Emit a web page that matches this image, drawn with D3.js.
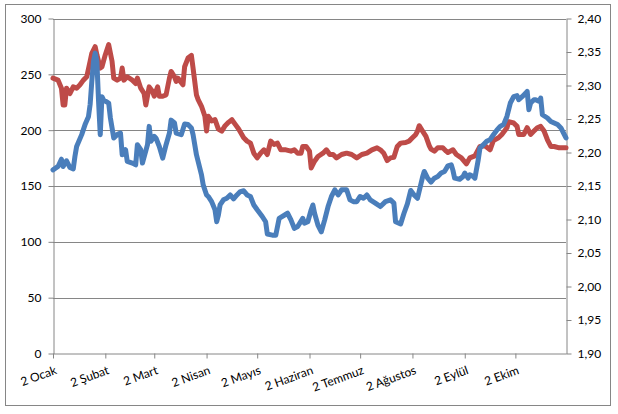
<!DOCTYPE html>
<html><head><meta charset="utf-8">
<script src="https://cdn.jsdelivr.net/npm/d3@7/dist/d3.min.js"></script>
<style>body{margin:0;background:#fff;}svg{display:block;}text{font-family:Lato,"Open Sans",sans-serif;fill:#000;}</style>
</head><body><svg id="c" width="618" height="414"></svg>
<script>
const monthTicks = ["2012-01-02","2012-02-02","2012-03-02","2012-04-02","2012-05-02","2012-06-02","2012-07-02","2012-08-02","2012-09-02","2012-10-02"];
const monthLabels = ["2 Ocak","2 Şubat","2 Mart","2 Nisan","2 Mayıs","2 Haziran","2 Temmuz","2 Ağustos","2 Eylül","2 Ekim"];
const leftTicks = [0,50,100,150,200,250,300];
const rightTicks = [1.90,1.95,2.00,2.05,2.10,2.15,2.20,2.25,2.30,2.35,2.40];

const blueDates = ["2012-01-02","2012-01-05","2012-01-07","2012-01-08","2012-01-10","2012-01-12","2012-01-14","2012-01-15","2012-01-16","2012-01-19","2012-01-21","2012-01-23","2012-01-24","2012-01-25","2012-01-26","2012-01-27","2012-01-28","2012-01-29","2012-01-30","2012-01-31","2012-02-01","2012-02-04","2012-02-05","2012-02-07","2012-02-09","2012-02-11","2012-02-12","2012-02-14","2012-02-15","2012-02-18","2012-02-20","2012-02-21","2012-02-23","2012-02-24","2012-02-27","2012-02-28","2012-02-29","2012-03-02","2012-03-03","2012-03-05","2012-03-07","2012-03-09","2012-03-11","2012-03-12","2012-03-14","2012-03-15","2012-03-18","2012-03-20","2012-03-22","2012-03-24","2012-03-25","2012-03-27","2012-03-28","2012-03-30","2012-03-31","2012-04-02","2012-04-03","2012-04-05","2012-04-07","2012-04-08","2012-04-09","2012-04-10","2012-04-12","2012-04-14","2012-04-16","2012-04-18","2012-04-20","2012-04-22","2012-04-24","2012-04-26","2012-04-28","2012-04-30","2012-05-02","2012-05-05","2012-05-07","2012-05-08","2012-05-11","2012-05-13","2012-05-15","2012-05-20","2012-05-22","2012-05-24","2012-05-26","2012-05-29","2012-05-30","2012-06-01","2012-06-03","2012-06-04","2012-06-05","2012-06-07","2012-06-09","2012-06-11","2012-06-13","2012-06-15","2012-06-17","2012-06-19","2012-06-21","2012-06-24","2012-06-26","2012-06-28","2012-06-30","2012-07-02","2012-07-04","2012-07-06","2012-07-08","2012-07-11","2012-07-14","2012-07-17","2012-07-20","2012-07-22","2012-07-23","2012-07-26","2012-07-28","2012-07-30","2012-08-01","2012-08-03","2012-08-05","2012-08-08","2012-08-09","2012-08-11","2012-08-13","2012-08-15","2012-08-17","2012-08-19","2012-08-21","2012-08-23","2012-08-25","2012-08-26","2012-08-27","2012-08-30","2012-09-01","2012-09-02","2012-09-04","2012-09-05","2012-09-07","2012-09-08","2012-09-10","2012-09-11","2012-09-13","2012-09-15","2012-09-17","2012-09-19","2012-09-21","2012-09-23","2012-09-25","2012-09-27","2012-09-29","2012-10-01","2012-10-03","2012-10-04","2012-10-06","2012-10-08","2012-10-09","2012-10-10","2012-10-11","2012-10-13","2012-10-14","2012-10-16","2012-10-17","2012-10-18","2012-10-21","2012-10-23","2012-10-25","2012-10-27","2012-10-29","2012-10-31","2012-11-01"];
const blueValues = [164.5,167.5,174,167.5,172.6,166.6,165.4,176.5,185.4,196,205,212,223,243.7,261.6,269,261.6,225.8,196,230,227,224.3,211,193,196,197.4,178,182.5,172,170.5,169,187,182.5,170.5,187,203.4,190,194.4,193,185.4,175,187,197.4,209,206.4,197.4,196,205.5,205,202,196,178,172,160,151,142,140.6,136,128.7,118,124,133,137.6,139,142,138.5,142,145,145.7,142,140.6,133,128.7,122.7,118,107,106,106,121,125.6,119.7,112,113.7,121,116.7,118,128.7,133,125.6,115,109,119.7,131.6,140.6,146.6,142,146.6,146.6,137.6,136,136,140.6,139,142,137.6,134.7,131.6,136,137.6,134.7,118,116,125.6,134,146,142,139,158,163,157,153.5,157,158.5,161.6,163,168,169,164,157,156,158.5,161.6,157,160,158.5,157,173.5,184,187,190,191.5,196,200,203.4,205,212.3,224.3,230,230.9,227.3,230,233,234.7,218.3,224.3,227.3,227.3,225.8,228.8,213.8,210.9,207.8,206.4,205,202,196,193];

const redDates = ["2012-01-02","2012-01-05","2012-01-07","2012-01-08","2012-01-09","2012-01-10","2012-01-12","2012-01-14","2012-01-16","2012-01-18","2012-01-20","2012-01-22","2012-01-24","2012-01-25","2012-01-27","2012-01-28","2012-01-30","2012-01-31","2012-02-02","2012-02-04","2012-02-06","2012-02-07","2012-02-09","2012-02-11","2012-02-12","2012-02-13","2012-02-15","2012-02-18","2012-02-20","2012-02-21","2012-02-23","2012-02-25","2012-02-26","2012-02-28","2012-03-01","2012-03-02","2012-03-04","2012-03-05","2012-03-07","2012-03-09","2012-03-11","2012-03-12","2012-03-14","2012-03-15","2012-03-16","2012-03-19","2012-03-20","2012-03-22","2012-03-24","2012-03-25","2012-03-27","2012-03-28","2012-03-30","2012-04-01","2012-04-02","2012-04-03","2012-04-05","2012-04-07","2012-04-09","2012-04-11","2012-04-13","2012-04-15","2012-04-17","2012-04-19","2012-04-21","2012-04-24","2012-04-26","2012-04-28","2012-04-30","2012-05-02","2012-05-04","2012-05-06","2012-05-08","2012-05-10","2012-05-12","2012-05-14","2012-05-16","2012-05-19","2012-05-22","2012-05-24","2012-05-26","2012-05-28","2012-05-29","2012-05-31","2012-06-02","2012-06-03","2012-06-05","2012-06-07","2012-06-10","2012-06-12","2012-06-14","2012-06-16","2012-06-18","2012-06-21","2012-06-24","2012-06-27","2012-06-30","2012-07-03","2012-07-06","2012-07-09","2012-07-12","2012-07-14","2012-07-16","2012-07-18","2012-07-20","2012-07-22","2012-07-24","2012-07-26","2012-07-29","2012-07-31","2012-08-02","2012-08-04","2012-08-05","2012-08-06","2012-08-08","2012-08-10","2012-08-12","2012-08-13","2012-08-15","2012-08-17","2012-08-20","2012-08-22","2012-08-23","2012-08-26","2012-08-28","2012-08-31","2012-09-03","2012-09-05","2012-09-08","2012-09-11","2012-09-14","2012-09-17","2012-09-19","2012-09-22","2012-09-24","2012-09-27","2012-09-28","2012-10-01","2012-10-03","2012-10-04","2012-10-07","2012-10-09","2012-10-11","2012-10-13","2012-10-15","2012-10-17","2012-10-19","2012-10-21","2012-10-23","2012-10-25","2012-10-28","2012-10-31","2012-11-01"];
const redValues = [2.311,2.308,2.296,2.271,2.271,2.296,2.288,2.298,2.296,2.301,2.308,2.313,2.336,2.348,2.358,2.346,2.326,2.328,2.346,2.361,2.336,2.311,2.308,2.311,2.326,2.308,2.313,2.308,2.303,2.311,2.296,2.288,2.271,2.298,2.291,2.284,2.298,2.284,2.284,2.286,2.311,2.321,2.313,2.306,2.311,2.301,2.328,2.341,2.345,2.326,2.286,2.279,2.269,2.254,2.232,2.254,2.247,2.249,2.235,2.232,2.240,2.245,2.249,2.242,2.235,2.222,2.217,2.214,2.199,2.192,2.199,2.204,2.197,2.217,2.212,2.214,2.204,2.204,2.202,2.204,2.199,2.199,2.209,2.209,2.202,2.177,2.187,2.194,2.199,2.204,2.197,2.197,2.192,2.197,2.199,2.197,2.192,2.197,2.199,2.204,2.207,2.204,2.199,2.188,2.192,2.193,2.209,2.214,2.215,2.217,2.222,2.227,2.232,2.240,2.232,2.224,2.210,2.205,2.202,2.207,2.207,2.202,2.200,2.204,2.197,2.192,2.183,2.192,2.195,2.209,2.210,2.204,2.218,2.222,2.227,2.237,2.246,2.244,2.239,2.227,2.227,2.237,2.227,2.232,2.237,2.239,2.232,2.219,2.209,2.209,2.207,2.207,2.207];

const parse = d3.timeParse("%Y-%m-%d");
const svg = d3.select("#c");
const L = 53, R = 566, T = 18.5, B = 353.5;
const gridColor = "#868686";

svg.append("rect").attr("x",5.5).attr("y",4.5).attr("width",605).attr("height",401)
  .attr("fill","#fff").attr("stroke",gridColor).attr("stroke-width",1);

const x = d3.scaleTime().domain([parse("2012-01-02"), parse("2012-11-01")]).range([L, R]);
const yL = d3.scaleLinear().domain([0,300]).range([B, T]);
const yR = d3.scaleLinear().domain([1.9,2.4]).range([B, T]);

// gridlines
svg.append("g").selectAll("line").data(leftTicks.filter(v=>v>0)).join("line")
  .attr("x1",L).attr("x2",R).attr("y1",d=>Math.round(yL(d))+0.5).attr("y2",d=>Math.round(yL(d))+0.5)
  .attr("stroke",gridColor).attr("stroke-width",1);

const comma = d3.formatLocale({decimal:",",thousands:".",grouping:[3],currency:["","TL"]}).format(".2f");

function styleAxis(g){
  g.select(".domain").attr("stroke",gridColor);
  g.selectAll(".tick line").attr("stroke",gridColor);
  g.selectAll("text").attr("font-size","12px").attr("fill","#000").style("font-family","Lato, 'Open Sans', sans-serif");
}

const gL = svg.append("g").attr("transform",`translate(${L+0.5},0)`)
  .call(d3.axisLeft(yL).tickValues(leftTicks).tickSize(5).tickSizeOuter(0).tickPadding(7))
  .call(styleAxis);
const gR = svg.append("g").attr("transform",`translate(${R+0.5},0)`)
  .call(d3.axisRight(yR).tickValues(rightTicks).tickSize(5).tickSizeOuter(0).tickPadding(6).tickFormat(comma))
  .call(styleAxis);
const gB = svg.append("g").attr("transform",`translate(0,${B})`)
  .call(d3.axisBottom(x).tickValues(monthTicks.map(parse)).tickSize(5).tickSizeOuter(0)
        .tickFormat((d,i)=>monthLabels[i]))
  .call(styleAxis);
gB.selectAll(".tick text").attr("text-anchor","end").attr("dy",null).attr("y",null)
  .attr("transform","translate(4,20) rotate(-20)");

const lineL = d3.line().x(d=>x(d.date)).y(d=>yL(d.v));
const lineR = d3.line().x(d=>x(d.date)).y(d=>yR(d.v));
const blue = blueDates.map((d,i)=>({date:parse(d), v:blueValues[i]}));
const red = redDates.map((d,i)=>({date:parse(d), v:redValues[i]}));

svg.append("path").datum(red).attr("d",lineR).attr("fill","none")
  .attr("stroke","#BE4B48").attr("stroke-width",5).attr("stroke-linejoin","round").attr("stroke-linecap","round");
svg.append("path").datum(blue).attr("d",lineL).attr("fill","none")
  .attr("stroke","#4A7EBB").attr("stroke-width",5).attr("stroke-linejoin","round").attr("stroke-linecap","round");
</script></body></html>
